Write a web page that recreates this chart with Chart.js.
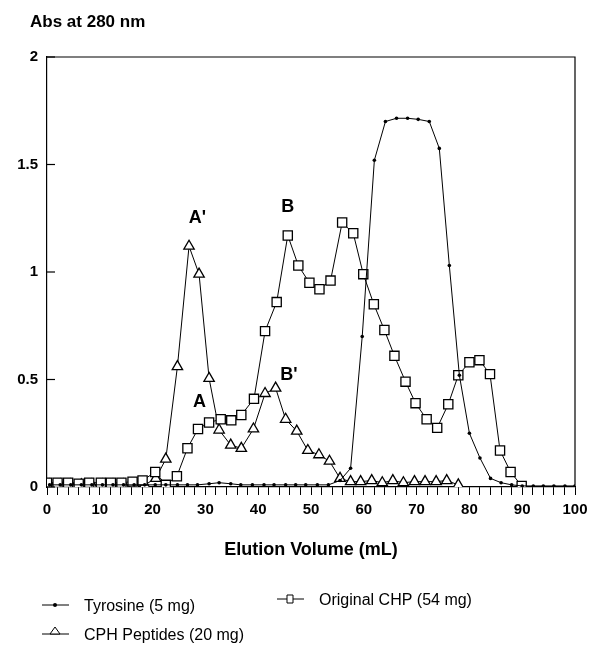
<!DOCTYPE html>
<html>
<head>
<meta charset="utf-8">
<script src="https://cdn.jsdelivr.net/npm/chart.js@4.4.1/dist/chart.umd.min.js"></script>
<style>
  html, body { margin: 0; padding: 0; background: #fff; }
  #wrap { width: 589px; height: 645px; }
</style>
</head>
<body>
<div id="wrap"><canvas id="gel" width="589" height="645"></canvas></div>
<script>
// elution volume (mL) and absorbance at 280 nm
const tyrosineX = [0.5, 2.5, 4.5, 6.5, 8.5, 10.5, 12.5, 14.5, 16.5, 18.5, 20.5, 22.5, 24.7, 26.6, 28.5, 30.7,
  32.6, 34.8, 36.7, 38.9, 41.1, 43, 45.2, 47.1, 49, 51.2, 53.3, 55.5, 57.5, 59.7, 62, 64.1, 66.2, 68.3, 70.3,
  72.4, 74.3, 76.2, 78.1, 80, 82, 84, 86, 88, 90, 92.1, 94, 96, 98.1, 100];
const tyrosineY = [0.01, 0.01, 0.01, 0.01, 0.01, 0.01, 0.01, 0.01, 0.01, 0.01, 0.01, 0.01, 0.01, 0.01, 0.01, 0.015,
  0.02, 0.015, 0.01, 0.01, 0.01, 0.01, 0.01, 0.01, 0.01, 0.01, 0.01, 0.03, 0.087, 0.70, 1.52, 1.70, 1.715, 1.715, 1.71,
  1.70, 1.575, 1.03, 0.52, 0.25, 0.135, 0.04, 0.02, 0.01, 0.005, 0.005, 0.005, 0.005, 0.005, 0.005];

const chpX = [0, 2, 4, 6, 8, 10.2, 12.1, 14.1, 16.2, 18.1, 20.5, 22.5, 24.6, 26.6, 28.6, 30.7, 32.9, 34.9, 36.8,
  39.2, 41.3, 43.5, 45.6, 47.6, 49.7, 51.6, 53.7, 55.9, 58, 59.9, 61.9, 63.9, 65.8, 67.9, 69.8, 71.9, 73.9, 76,
  77.9, 80, 81.9, 83.9, 85.8, 87.8, 89.9];
const chpY = [0.02, 0.02, 0.02, 0.015, 0.02, 0.02, 0.02, 0.02, 0.025, 0.03, 0.07, 0.01, 0.05, 0.18, 0.27, 0.30, 0.315,
  0.31, 0.335, 0.41, 0.725, 0.86, 1.17, 1.03, 0.95, 0.92, 0.96, 1.23, 1.18, 0.99, 0.85, 0.73, 0.61, 0.49, 0.39, 0.315,
  0.275, 0.385, 0.52, 0.58, 0.59, 0.525, 0.17, 0.07, 0.005];

const cphX = [0.5, 2.5, 4.5, 6.5, 8.5, 10.5, 12.5, 14.5, 16.5, 18.5, 20.6, 22.5, 24.7, 26.9, 28.8, 30.7, 32.6, 34.8,
  36.8, 39.1, 41.3, 43.3, 45.2, 47.3, 49.4, 51.5, 53.5, 55.5, 57.5, 59.4, 61.5, 63.5, 65.5, 67.5, 69.6, 71.6, 73.7,
  75.7, 77.9];
const cphY = [0.01, 0.01, 0.01, 0.01, 0.01, 0.01, 0.01, 0.01, 0.01, 0.01, 0.04, 0.13, 0.56, 1.12, 0.99, 0.505, 0.265,
  0.195, 0.18, 0.27, 0.435, 0.46, 0.315, 0.26, 0.17, 0.15, 0.12, 0.04, 0.025, 0.025, 0.03, 0.02, 0.03, 0.02, 0.025,
  0.025, 0.025, 0.03, 0.01];

const seriesLabels = ['Tyrosine (5 mg)', 'Original CHP (54 mg)', 'CPH Peptides (20 mg)'];

// peak labels: [text, mL, absorbance]
const peakLabels = [["A'", 28.5, 1.25], ['B', 45.6, 1.30], ['A', 28.9, 0.395], ["B'", 45.8, 0.52]];

const FONT = "'Liberation Sans', Arial, Helvetica, sans-serif";

const pts = (xs, ys) => xs.map((x, i) => ({ x: x, y: ys[i] }));

// draws the frame, inward y ticks, headings, peak letters and the legend
const decor = {
  id: 'decor',
  afterDraw(chart) {
    const ctx = chart.ctx;
    const a = chart.chartArea;
    const xs = chart.scales.x;
    const ys = chart.scales.y;
    ctx.save();
    ctx.strokeStyle = '#000';
    ctx.lineWidth = 1.2;
    ctx.beginPath();
    ctx.moveTo(a.left, a.top);
    ctx.lineTo(a.right, a.top);
    ctx.lineTo(a.right, a.bottom);
    ctx.stroke();

    ys.ticks.forEach(t => {
      const py = ys.getPixelForValue(t.value);
      ctx.beginPath();
      ctx.moveTo(a.left, py);
      ctx.lineTo(a.left + 8, py);
      ctx.stroke();
    });

    ctx.fillStyle = '#000';
    ctx.textBaseline = 'middle';
    ctx.textAlign = 'left';
    ctx.font = 'bold 17px ' + FONT;
    ctx.fillText('Abs at 280 nm', 30, 22);

    ctx.textAlign = 'center';
    ctx.font = 'bold 18px ' + FONT;
    peakLabels.forEach(p => {
      ctx.fillText(p[0], xs.getPixelForValue(p[1]), ys.getPixelForValue(p[2]));
    });

    // legend
    const items = [
      { ds: 0, x: 42, y: 605 },
      { ds: 1, x: 277, y: 599 },
      { ds: 2, x: 42, y: 634 }
    ];
    ctx.font = '16px ' + FONT;
    ctx.textAlign = 'left';
    ctx.lineWidth = 1;
    items.forEach(it => {
      const ds = chart.data.datasets[it.ds];
      ctx.beginPath();
      ctx.moveTo(it.x, it.y);
      ctx.lineTo(it.x + 27, it.y);
      ctx.stroke();
      const cx = it.x + 13;
      ctx.beginPath();
      if (ds.pointStyle === 'circle') {
        ctx.arc(cx, it.y, 2, 0, Math.PI * 2);
        ctx.fill();
      } else if (ds.pointStyle === 'rect') {
        ctx.fillStyle = '#fff';
        ctx.rect(cx - 3, it.y - 4, 6, 8);
        ctx.fill();
        ctx.stroke();
        ctx.fillStyle = '#000';
      } else {
        ctx.fillStyle = '#fff';
        ctx.moveTo(cx, it.y - 7);
        ctx.lineTo(cx - 5, it.y);
        ctx.lineTo(cx + 5, it.y);
        ctx.closePath();
        ctx.fill();
        ctx.stroke();
        ctx.fillStyle = '#000';
      }
      ctx.fillText(ds.label, it.x + 42, it.y + 2);
    });
    ctx.restore();
  }
};

const data = {
  datasets: [
    {
      label: seriesLabels[0],
      data: pts(tyrosineX, tyrosineY),
      showLine: true,
      borderColor: '#000',
      borderWidth: 1,
      backgroundColor: '#000',
      pointStyle: 'circle',
      pointRadius: 1.8,
      pointBorderWidth: 0
    },
    {
      label: seriesLabels[1],
      data: pts(chpX, chpY),
      showLine: true,
      borderColor: '#000',
      borderWidth: 1,
      backgroundColor: '#fff',
      pointStyle: 'rect',
      pointRadius: 6.5,
      pointBorderWidth: 1.3
    },
    {
      label: seriesLabels[2],
      data: pts(cphX, cphY),
      showLine: true,
      borderColor: '#000',
      borderWidth: 1,
      backgroundColor: '#fff',
      pointStyle: 'triangle',
      pointRadius: 6,
      pointBorderWidth: 1.3
    }
  ]
};

const config = {
  type: 'scatter',
  data: data,
  options: {
    responsive: false,
    animation: false,
    layout: { padding: { left: 0, right: 14, top: 57, bottom: 80 } },
    plugins: {
      legend: { display: false },
      tooltip: { enabled: false }
    },
    scales: {
      x: {
        type: 'linear',
        min: 0,
        max: 100,
        afterFit: s => { s.height = 78; s.paddingLeft = 0; s.paddingRight = 0; },
        ticks: {
          stepSize: 2,
          autoSkip: false,
          maxRotation: 0,
          padding: 6,
          color: '#000',
          font: { family: FONT, size: 15, weight: 'bold' },
          callback: v => (v % 10 === 0 ? v : '')
        },
        grid: { drawOnChartArea: false, drawTicks: true, tickLength: 8, color: '#000', lineWidth: 1 },
        border: { color: '#000', width: 1.2 },
        title: {
          display: true,
          text: 'Elution Volume (mL)',
          color: '#000',
          font: { family: FONT, size: 18, weight: 'bold' },
          padding: { top: 4, bottom: 4 }
        }
      },
      y: {
        min: 0,
        max: 2,
        afterFit: s => { s.width = 47; },
        ticks: {
          stepSize: 0.5,
          padding: 9,
          color: '#000',
          font: { family: FONT, size: 15, weight: 'bold' },
          callback: v => String(v)
        },
        grid: { drawOnChartArea: false, drawTicks: false },
        border: { color: '#000', width: 1.2 }
      }
    }
  },
  plugins: [decor]
};

new Chart(document.getElementById('gel'), config);
</script>
</body>
</html>
